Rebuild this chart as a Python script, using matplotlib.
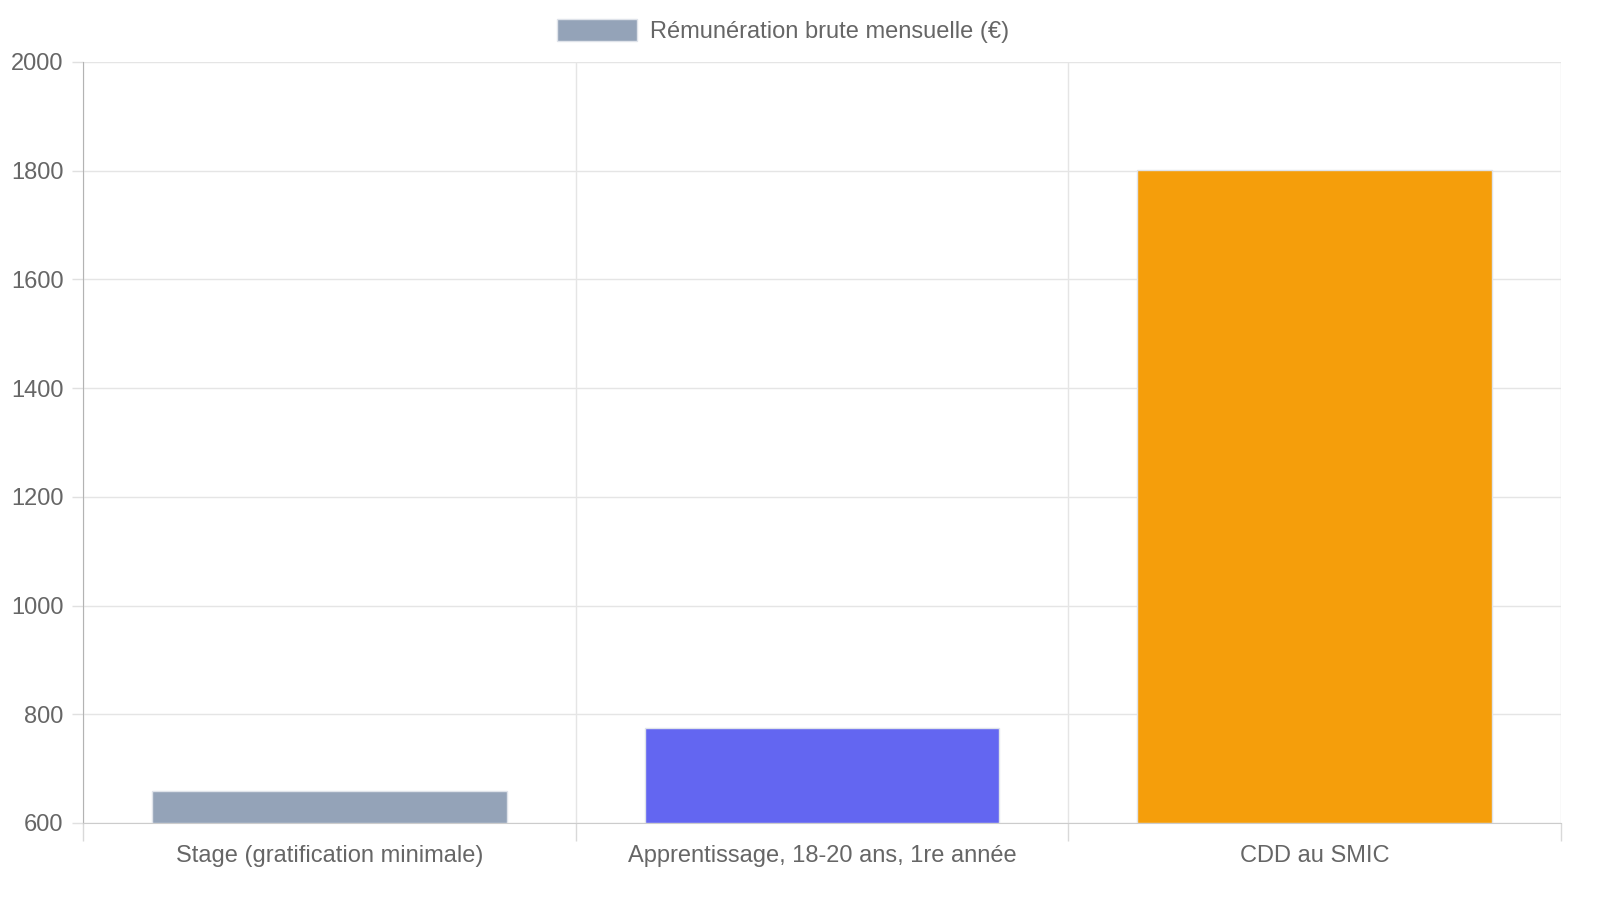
import matplotlib.pyplot as plt
from matplotlib.patches import Patch

# Données du graphique
categories = ['Stage (gratification minimale)', 'Apprentissage, 18-20 ans, 1re année', 'CDD au SMIC']
remuneration = [659.76, 774.77, 1801.80]
couleurs = ['#94A3B8', '#6366F1', '#F59E0B']
y_ticks = [600, 800, 1000, 1200, 1400, 1600, 1800, 2000]
legende = 'Rémunération brute mensuelle (€)'

plt.rcParams['font.family'] = ['Liberation Sans', 'DejaVu Sans']

fig = plt.figure(figsize=(16, 9), dpi=100)
ax = fig.add_axes([83 / 1600, 1 - 823 / 900, (1561 - 83) / 1600, (823 - 62) / 900])

x = range(len(categories))
ax.bar(x, [v - 600 for v in remuneration], bottom=600, width=0.72,
       color=couleurs, edgecolor='#dfe3ea', linewidth=1, zorder=3)

ax.set_xlim(-0.5, len(categories) - 0.5)
ax.set_ylim(600, 2000)
ax.set_yticks(y_ticks)
ax.set_yticklabels([str(t) for t in y_ticks], fontsize=17, color='#666666')
ax.set_xticks(list(x))
ax.set_xticklabels(categories, fontsize=17, color='#666666')
ax.set_xticks([i - 0.5 for i in range(len(categories) + 1)], minor=True)

ax.tick_params(axis='y', length=8, width=1, color='#e0e0e0', pad=6)
ax.tick_params(axis='x', which='major', length=0, pad=16)
ax.tick_params(axis='x', which='minor', length=13, width=1, color='#d9d9d9')

ax.grid(axis='y', color='#e5e5e5', linewidth=1, zorder=0)
ax.grid(axis='x', which='minor', color='#e5e5e5', linewidth=1, zorder=0)

for cote in ['top', 'right']:
    ax.spines[cote].set_visible(False)
ax.spines['left'].set_color('#b3b3b3')
ax.spines['bottom'].set_color('#cccccc')

# Légende en haut, centrée
poignee = Patch(facecolor=couleurs[0], edgecolor='#dfe3ea', label=legende)
fig.legend(handles=[poignee], loc='center', bbox_to_anchor=(783 / 1600, 1 - 31 / 900),
           frameon=False, fontsize=17, labelcolor='#666666',
           handlelength=3.4, handleheight=1.1, handletextpad=0.55)

fig.savefig('out.png', dpi=100)
